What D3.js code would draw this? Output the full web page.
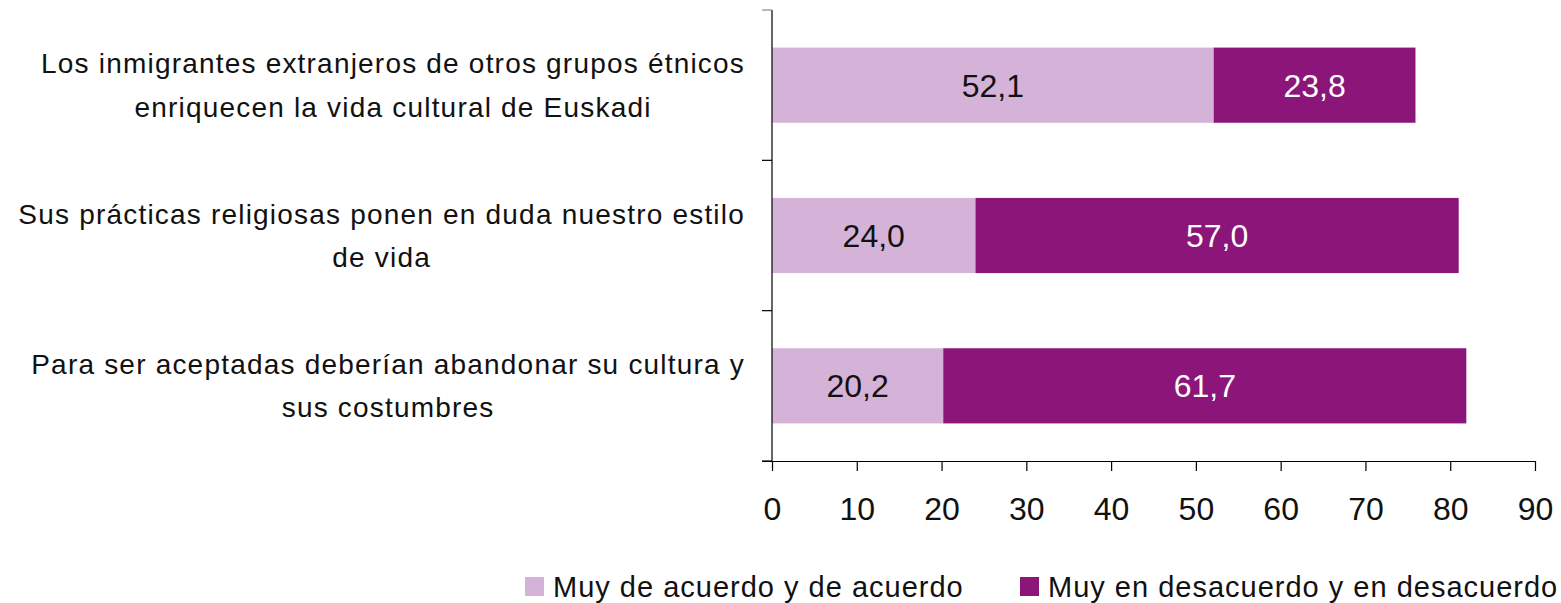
<!DOCTYPE html>
<html>
<head>
<meta charset="utf-8">
<script src="https://cdn.jsdelivr.net/npm/d3@7"></script>
<style>
  body { margin: 0; background: #fff; }
  text { font-family: "Liberation Sans", Arial, sans-serif; }
</style>
</head>
<body>
<div id="chart"></div>
<script>
const canvas = { w: 1561, h: 603 };

// data
const categories = [
  ["Los inmigrantes extranjeros de otros grupos étnicos", "enriquecen la vida cultural de Euskadi"],
  ["Sus prácticas religiosas ponen en duda nuestro estilo", "de vida"],
  ["Para ser aceptadas deberían abandonar su cultura y", "sus costumbres"]
];
const seriesNames = ["Muy de acuerdo y de acuerdo", "Muy en desacuerdo y en desacuerdo"];
const acuerdo = [52.1, 24.0, 20.2];
const desacuerdo = [23.8, 57.0, 61.7];
const ticks = [0, 10, 20, 30, 40, 50, 60, 70, 80, 90];
const colors = ["#D5B3D9", "#8B1579"];

const rows = categories.map((c, i) => ({ key: i, label: c, a: acuerdo[i], d: desacuerdo[i] }));
const stack = d3.stack().keys(["a", "d"])(rows);

const margin = { left: 772, top: 10, right: 26, bottom: 142 };
const plotW = canvas.w - margin.left - margin.right;
const plotH = canvas.h - margin.top - margin.bottom;

const x = d3.scaleLinear().domain([0, 90]).range([0, plotW]);
const y = d3.scaleBand().domain(rows.map(r => r.key)).range([0, plotH]).paddingInner(0.5).paddingOuter(0.25);
const yOuter = d3.scaleBand().domain(rows.map(r => r.key)).range([0, plotH]);

const svg = d3.select("#chart").append("svg")
  .attr("width", canvas.w)
  .attr("height", canvas.h);

const g = svg.append("g").attr("transform", `translate(${margin.left},${margin.top})`);

// bars
const layers = g.selectAll("g.layer")
  .data(stack)
  .enter()
  .append("g")
  .attr("class", "layer")
  .attr("fill", (d, i) => colors[i]);

layers.selectAll("rect")
  .data(d => d)
  .enter()
  .append("rect")
  .attr("x", d => x(d[0]))
  .attr("width", d => x(d[1]) - x(d[0]))
  .attr("y", d => y(d.data.key))
  .attr("height", y.bandwidth());

layers.selectAll("text")
  .data(d => d)
  .enter()
  .append("text")
  .attr("x", d => (x(d[0]) + x(d[1])) / 2)
  .attr("y", d => y(d.data.key) + y.bandwidth() / 2)
  .attr("dy", "0.36em")
  .attr("text-anchor", "middle")
  .attr("font-size", 32)
  .attr("fill", function () { return this.parentNode.__data__.key === "a" ? "#111" : "#fff"; })
  .text(d => (d[1] - d[0]).toFixed(1).replace(".", ","));

// y axis (ticks at band boundaries)
const yAxisG = g.append("g").attr("stroke", "#000").attr("stroke-width", 1.2);
yAxisG.append("line").attr("x1", 0).attr("x2", 0).attr("y1", 0).attr("y2", plotH);
const boundaries = [0, ...rows.map(r => yOuter(r.key) + yOuter.bandwidth())];
yAxisG.selectAll("line.tick")
  .data(boundaries)
  .enter()
  .append("line")
  .attr("class", "tick")
  .attr("x1", -10).attr("x2", 0)
  .attr("y1", d => d).attr("y2", d => d)
  .attr("stroke", (d, i) => i === 0 ? "#888" : "#000");

// category labels: each block centred on its widest line, which ends at -27
const labels = g.append("g").attr("text-anchor", "middle").attr("font-size", 28)
  .attr("letter-spacing", 1.2).attr("fill", "#111");
labels.selectAll("text")
  .data(rows)
  .enter()
  .append("text")
  .attr("y", d => yOuter(d.key) + yOuter.bandwidth() / 2)
  .each(function (d) {
    const t = d3.select(this);
    d.label.forEach((line, j) => {
      t.append("tspan")
        .attr("x", 0)
        .attr("dy", j === 0 ? "-0.42em" : "1.55em")
        .text(line);
    });
    const w = d3.max(t.selectAll("tspan").nodes(), n => n.getComputedTextLength());
    t.selectAll("tspan").attr("x", -27 - w / 2);
  });

// x axis
const xAxis = d3.axisBottom(x).tickValues(ticks).tickSize(10).tickPadding(26).tickSizeOuter(0);
const xg = g.append("g").attr("transform", `translate(0,${plotH})`).call(xAxis);
xg.select(".domain").attr("d", `M-10,0.5H${plotW}`).attr("stroke-width", 1.2);
xg.selectAll(".tick line").attr("stroke-width", 1.2);
xg.selectAll(".tick text").attr("font-size", 32).attr("fill", "#111")
  .style("font-family", '"Liberation Sans", Arial, sans-serif');

// legend
const legendItems = [{ x: 525 }, { x: 1020 }];
const legend = svg.append("g");
legend.selectAll("rect")
  .data(seriesNames)
  .enter()
  .append("rect")
  .attr("x", (d, i) => legendItems[i].x)
  .attr("y", 577)
  .attr("width", 19)
  .attr("height", 19)
  .attr("fill", (d, i) => colors[i]);
legend.selectAll("text")
  .data(seriesNames)
  .enter()
  .append("text")
  .attr("x", (d, i) => legendItems[i].x + 28)
  .attr("y", 597)
  .attr("font-size", 29)
  .attr("letter-spacing", 1)
  .attr("fill", "#111")
  .text(d => d);
</script>
</body>
</html>
